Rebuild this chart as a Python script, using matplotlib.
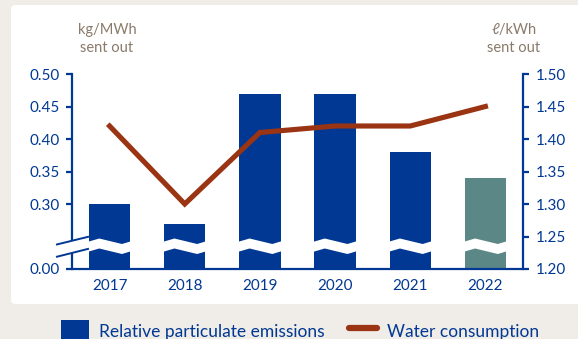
import matplotlib.pyplot as plt
import numpy as np
from matplotlib.patches import FancyBboxPatch, Patch
from matplotlib.lines import Line2D
import matplotlib.transforms as mtransforms

# data
years = ["2017", "2018", "2019", "2020", "2021", "2022"]
particulate = [0.30, 0.27, 0.47, 0.47, 0.38, 0.34]   # kg/MWh sent out
water = [1.42, 1.30, 1.41, 1.42, 1.42, 1.45]         # l/kWh sent out

left_ticks = [0.20, 0.30, 0.35, 0.40, 0.45, 0.50]
left_labels = ["0.00", "0.30", "0.35", "0.40", "0.45", "0.50"]
right_ticks = [1.20, 1.25, 1.30, 1.35, 1.40, 1.45, 1.50]

blue = "#003893"
teal = "#5b8886"
rust = "#9a3412"
unit_col = "#8a7a6a"
bg = "#f0ece8"

plt.rcParams['font.family'] = ['Lato', 'DejaVu Sans']

fig = plt.figure(figsize=(5.78, 3.39), dpi=100, facecolor=bg)

# white panel behind the chart
panel = FancyBboxPatch((11 / 578, 35 / 339), 1.0, 299 / 339,
                       boxstyle="round,pad=0,rounding_size=0.01",
                       transform=fig.transFigure, facecolor="white",
                       edgecolor="none", zorder=-5)
fig.patches.append(panel)

ax = fig.add_axes([72 / 578, 70 / 339, 451 / 578, 195 / 339])
ax.set_facecolor("none")
x = np.arange(len(years))
bar_colors = [blue] * 5 + [teal]
ax.bar(x, particulate, width=0.55, color=bar_colors, zorder=2)
ax.set_xlim(-0.5, len(years) - 0.5)
ax.set_ylim(0.20, 0.50)
ax.set_yticks(left_ticks)
ax.set_yticklabels(left_labels)
ax.set_xticks(x)
ax.set_xticklabels(years)

ax2 = ax.twinx()
ax2.plot(x, water, color=rust, lw=3.7, solid_joinstyle="miter", zorder=3)
ax2.set_ylim(1.20, 1.50)
ax2.set_yticks(right_ticks)
ax2.set_yticklabels([f"{t:.2f}" for t in right_ticks])

for a in (ax, ax2):
    for s in a.spines.values():
        s.set_color(blue)
        s.set_linewidth(1.6)
    a.spines['top'].set_visible(False)
ax.spines['right'].set_visible(False)
ax2.spines['left'].set_visible(False)
ax2.spines['bottom'].set_visible(False)

ax.tick_params(axis='y', colors=blue, labelcolor=blue, length=4, width=1.6,
               labelsize=11, pad=5)
ax.tick_params(axis='x', length=0, labelcolor=blue, labelsize=11, pad=7)
ax2.tick_params(axis='y', colors=blue, labelcolor=blue, length=4, width=1.6,
                labelsize=11, pad=5)

# zigzag break across the bars
trans = mtransforms.blended_transform_factory(ax.transData, ax.transAxes)
h = 195.0
fr = np.array([-0.1, 0.0, 0.25, 0.8, 1.0, 1.1])
off = np.array([0.0, 0.0, -3.0, 2.5, 0.0, 0.0])
for xi in x:
    xs = xi - 0.275 + 0.55 * fr
    top = (269 - (241.5 + off)) / h
    bot = (269 - (251.5 + off)) / h
    poly = np.column_stack([np.r_[xs, xs[::-1]], np.r_[top, bot[::-1]]])
    ax.fill(poly[:, 0], poly[:, 1], color="white", transform=trans,
            zorder=2.5, lw=0)

# break marks on the left axis
w = 451.0
x0, x1 = (57 - 72) / w, (88 - 72) / w
ax.fill([x0, x1, x1, x0], [0.126, 0.165, 0.103, 0.063], color="white",
        transform=ax.transAxes, clip_on=False, zorder=4, lw=0)
ax.plot([x0, x1], [0.126, 0.165], color=blue, lw=1.4,
        transform=ax.transAxes, clip_on=False, zorder=5)
ax.plot([x0, x1], [0.063, 0.103], color=blue, lw=1.4,
        transform=ax.transAxes, clip_on=False, zorder=5)

# unit labels
fig.text(107 / 578, 1 - 39 / 339, "kg/MWh\nsent out", ha="center", va="center",
         color=unit_col, fontsize=10.5, linespacing=1.3)
fig.text(514 / 578, 1 - 39 / 339, "ℓ/kWh\nsent out", ha="center", va="center",
         color=unit_col, fontsize=10.5, linespacing=1.3)

# legend
handles = [Patch(facecolor=blue, edgecolor="none"),
           Line2D([0], [0], color=rust, lw=4.5, solid_capstyle="round")]
fig.legend(handles, ["Relative particulate emissions", "Water consumption"],
           loc="center", bbox_to_anchor=(300 / 578, 1 - 331 / 339), ncol=2,
           frameon=False, fontsize=12.5, labelcolor=blue, handlelength=1.6,
           handleheight=1.6, handletextpad=0.6, columnspacing=1.4)

fig.savefig("out.png", dpi=100, facecolor=bg)
